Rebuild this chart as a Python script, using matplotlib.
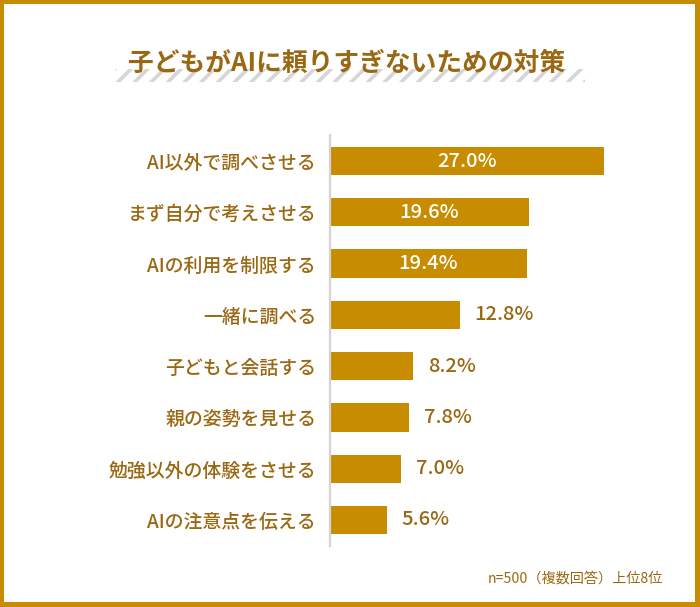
import matplotlib
matplotlib.use('Agg')
import matplotlib.pyplot as plt
from matplotlib.patches import Rectangle

plt.rcParams['font.family'] = ['Noto Sans CJK JP', 'DejaVu Sans']
plt.rcParams['hatch.linewidth'] = 2.6

title = "子どもがAIに頼りすぎないための対策"
labels = ["AI以外で調べさせる", "まず自分で考えさせる", "AIの利用を制限する", "一緒に調べる",
          "子どもと会話する", "親の姿勢を見せる", "勉強以外の体験をさせる", "AIの注意点を伝える"]
values = [27.0, 19.6, 19.4, 12.8, 8.2, 7.8, 7.0, 5.6]
inside = [True, True, True, False, False, False, False, False]
note = "n=500（複数回答）上位8位"

gold = '#C88C00'
brown = '#9A6812'

W, H = 700, 607
fig = plt.figure(figsize=(W / 100, H / 100), dpi=100)
fig.patch.set_facecolor(gold)
fig.patches.append(Rectangle((4 / W, 5 / H), 691 / W, 598 / H, transform=fig.transFigure,
                             facecolor='white', edgecolor='none', zorder=0))

# striped band under the title
fig.patches.append(Rectangle((115 / W, 1 - 82 / H), 470 / W, 13 / H, transform=fig.transFigure,
                             facecolor='none', edgecolor='#D6D6D6', linewidth=0, hatch='//',
                             zorder=1))
fig.text(347 / W, 1 - 63 / H, title, ha='center', va='center', fontsize=18.5,
         fontweight='bold', color=brown, zorder=3)

ax = fig.add_axes([330 / W, 1 - 545.6 / H, 304.5 / W, 410.2 / H])
ax.set_zorder(2)
ax.set_facecolor('none')
y = list(range(len(values)))
ax.barh(y, values, height=0.55, color=gold, zorder=2)
ax.set_xlim(0, 30)
ax.set_ylim(len(values) - 0.5, -0.5)
ax.set_yticks(y)
ax.set_yticklabels(labels, fontsize=13.6, color=brown, fontweight='medium')
ax.tick_params(axis='y', length=0, pad=10)
ax.set_xticks([])
for s in ['top', 'right', 'bottom']:
    ax.spines[s].set_visible(False)
ax.spines['left'].set_color('#D4D4D4')
ax.spines['left'].set_linewidth(1.6)

for yi, v, ins in zip(y, values, inside):
    if ins:
        ax.text(v / 2, yi, f"{v:.1f}%", ha='center', va='center', fontsize=14.5,
                fontweight='medium', color='white', zorder=3)
    else:
        ax.text(v + 1.45, yi, f"{v:.1f}%", ha='left', va='center', fontsize=14.5,
                fontweight='medium', color=brown, zorder=3)

fig.text(663 / W, 1 - 578 / H, note, ha='right', va='center', fontsize=10.2, color=brown)

fig.savefig('out.png', dpi=100, facecolor=fig.get_facecolor())
